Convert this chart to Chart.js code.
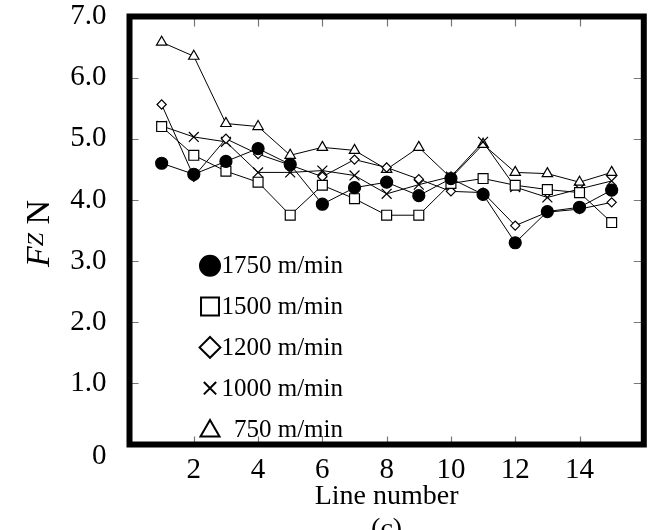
<!DOCTYPE html>
<html>
<head>
<meta charset="utf-8">
<script src="https://cdn.jsdelivr.net/npm/chart.js@4.4.1/dist/chart.umd.min.js"></script>
<style>
  html, body { margin: 0; padding: 0; background: #fff; }
</style>
</head>
<body>
<canvas id="fzChart" width="652" height="530"></canvas>
<script>
// values (force Fz in N per line number)
const lineNumbers = [1, 2, 3, 4, 5, 6, 7, 8, 9, 10, 11, 12, 13, 14, 15];
const fz1750 = [4.60, 4.42, 4.63, 4.84, 4.58, 3.93, 4.20, 4.29, 4.07, 4.35, 4.09, 3.30, 3.81, 3.88, 4.16];
const fz1500 = [5.20, 4.73, 4.47, 4.29, 3.75, 4.24, 4.02, 3.75, 3.75, 4.27, 4.35, 4.24, 4.17, 4.12, 3.63];
const fz1200 = [5.56, 4.38, 5.00, 4.75, 4.57, 4.38, 4.66, 4.53, 4.34, 4.14, 4.12, 3.58, 3.80, 3.85, 3.96];
const fz1000 = [5.21, 5.03, 4.95, 4.45, 4.45, 4.48, 4.40, 4.10, 4.25, 4.38, 4.95, 4.21, 4.04, 4.18, 4.31];
const fz750  = [6.58, 6.35, 5.25, 5.20, 4.73, 4.86, 4.81, 4.50, 4.86, 4.36, 4.91, 4.45, 4.43, 4.29, 4.45];

const seriesLabels = ['1750 m/min', '1500 m/min', '1200 m/min', '1000 m/min', '750 m/min'];
const xTickValues = [2, 4, 6, 8, 10, 12, 14];
const yTickValues = [1, 2, 3, 4, 5, 6];

const serif = '"Liberation Serif", "Times New Roman", serif';

function makeSet(label, values, style, radius, filled) {
    return {
        label: label,
        data: lineNumbers.map((x, i) => ({ x: x, y: values[i] })),
        borderColor: '#000',
        borderWidth: 1,
        pointStyle: style,
        pointRadius: radius,
        pointBackgroundColor: filled ? '#000' : '#fff',
        pointBorderColor: '#000',
        pointBorderWidth: 1.2,
        tension: 0,
        fill: false
    };
}

// legend marker look (bigger than plot markers)
const legendMarks = [
    { pointStyle: 'circle', radius: 10, filled: true },
    { pointStyle: 'rect', radius: 12.7, filled: false },
    { pointStyle: 'rectRot', radius: 10.4, filled: false },
    { pointStyle: 'crossRot', radius: 8.7, filled: false },
    { pointStyle: 'triangle', radius: 11, filled: false }
];

const framePlugin = {
    id: 'frame',
    beforeDatasetsDraw(chart) {
        const { ctx, chartArea: a, scales } = chart;
        ctx.save();
        ctx.strokeStyle = '#777';
        ctx.lineWidth = 1.2;
        ctx.beginPath();
        xTickValues.forEach(v => {
            const px = Math.round(scales.x.getPixelForValue(v)) + 0.5;
            ctx.moveTo(px, a.top); ctx.lineTo(px, a.top + 10);
            ctx.moveTo(px, a.bottom); ctx.lineTo(px, a.bottom - 8);
        });
        yTickValues.forEach(v => {
            const py = Math.round(scales.y.getPixelForValue(v)) + 0.5;
            ctx.moveTo(a.left, py); ctx.lineTo(a.left + 9, py);
            ctx.moveTo(a.right, py); ctx.lineTo(a.right - 10, py);
        });
        ctx.stroke();
        ctx.restore();
    },
    afterDraw(chart) {
        const { ctx, chartArea: a } = chart;
        ctx.save();
        ctx.strokeStyle = '#000';
        ctx.lineWidth = 6;
        ctx.strokeRect(a.left, a.top, a.right - a.left, a.bottom - a.top);
        ctx.restore();
    }
};

const legendPlugin = {
    id: 'innerLegend',
    afterDraw(chart) {
        const { ctx, chartArea: a } = chart;
        const mx = a.left + 80.5;
        const textRight = a.left + 213.5;
        ctx.save();
        seriesLabels.forEach((lab, i) => {
            const y = a.bottom - 178.7 + i * 40.8;
            const m = legendMarks[i];
            ctx.fillStyle = m.filled ? '#000' : '#fff';
            ctx.strokeStyle = '#000';
            ctx.lineWidth = 2;
            const my = m.pointStyle === 'triangle' ? y + 2 : y;
            Chart.helpers.drawPoint(ctx, { pointStyle: m.pointStyle, radius: m.radius, rotation: 0, borderWidth: 2 }, mx, my);
            ctx.fillStyle = '#000';
            ctx.font = '25px ' + serif;
            ctx.textAlign = 'right';
            ctx.textBaseline = 'middle';
            ctx.fillText(lab, textRight, y + 1);
        });
        ctx.restore();
    }
};

// y title: italic F with small Z, then N
const yTitlePlugin = {
    id: 'yTitle',
    afterDraw(chart) {
        const { ctx, chartArea: a } = chart;
        ctx.save();
        ctx.translate(36.5, (a.top + a.bottom) / 2 + 3);
        ctx.rotate(-Math.PI / 2);
        ctx.fillStyle = '#000';
        ctx.textBaseline = 'alphabetic';
        ctx.textAlign = 'left';
        const fBig = 'italic 34px ' + serif;
        const fSmall = 'italic 24px ' + serif;
        const fUp = '34px ' + serif;
        ctx.font = fBig; const wF = ctx.measureText('F').width;
        ctx.font = fSmall; const wZ = ctx.measureText('Z').width;
        ctx.font = fUp; const wN = ctx.measureText(' N').width;
        let x = -(wF + wZ + wN) / 2;
        ctx.font = fBig; ctx.fillText('F', x, 12.5); x += wF;
        ctx.font = fSmall; ctx.fillText('Z', x, 6.5); x += wZ;
        ctx.font = fUp; ctx.fillText(' N', x, 12.5);
        ctx.restore();
    }
};

const ctx = document.getElementById('fzChart').getContext('2d');
new Chart(ctx, {
    type: 'line',
    data: {
        datasets: [
            makeSet(seriesLabels[0], fz1750, 'circle', 6, true),
            makeSet(seriesLabels[1], fz1500, 'rect', 7, false),
            makeSet(seriesLabels[2], fz1200, 'rectRot', 4.6, false),
            makeSet(seriesLabels[3], fz1000, 'crossRot', 7, false),
            makeSet(seriesLabels[4], fz750, 'triangle', 6, false)
        ]
    },
    options: {
        responsive: false,
        animation: false,
        devicePixelRatio: 1,
        layout: { padding: { left: 0, right: 5, top: 16.5, bottom: 0 } },
        plugins: {
            legend: { display: false },
            tooltip: { enabled: false }
        },
        scales: {
            x: {
                type: 'linear',
                min: 0,
                max: 16,
                afterFit: s => { s.height = 85.5; s.paddingLeft = 0; s.paddingRight = 0; },
                grid: { display: false, drawTicks: false },
                border: { display: false },
                ticks: {
                    stepSize: 2,
                    autoSkip: false,
                    maxRotation: 0,
                    padding: 8,
                    color: '#000',
                    font: { family: serif, size: 29 },
                    callback: v => (v > 0 && v < 16) ? String(v) : ''
                },
                title: {
                    display: true,
                    text: ['Line number', '(c)'],
                    color: '#000',
                    font: { family: serif, size: 28, lineHeight: 1.18 },
                    padding: { top: 0, bottom: -16.5 }
                }
            },
            y: {
                min: 0,
                max: 7,
                afterFit: s => { s.width = 129.5; s.paddingTop = 0; s.paddingBottom = 0; },
                grid: { display: false, drawTicks: false },
                border: { display: false },
                ticks: {
                    stepSize: 1,
                    padding: 23,
                    color: '#000',
                    font: { family: serif, size: 29, lineHeight: '24px' },
                    callback: v => v === 0 ? ['', '0'] : v.toFixed(1)
                }
            }
        }
    },
    plugins: [framePlugin, legendPlugin, yTitlePlugin]
});
</script>
</body>
</html>
